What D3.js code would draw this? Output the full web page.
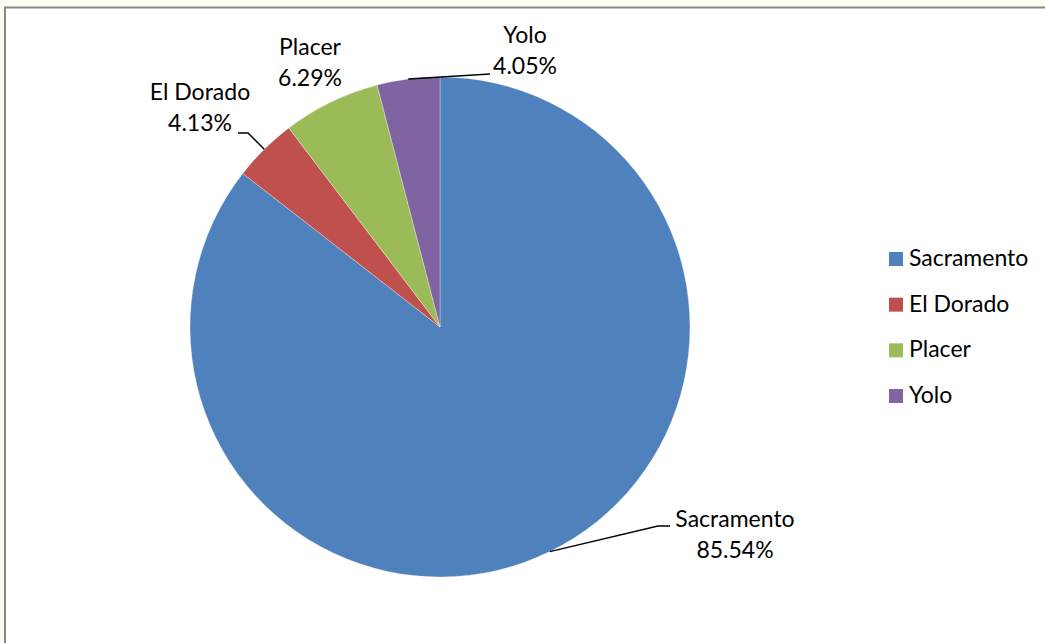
<!DOCTYPE html>
<html>
<head>
<meta charset="utf-8">
<script src="https://cdn.jsdelivr.net/npm/d3@7"></script>
<style>
  html, body { margin: 0; padding: 0; background: #fdfcf0; }
  svg { display: block; }
</style>
</head>
<body>
<svg id="chart" width="1045" height="643"></svg>
<script>
// ---- data ----
const categories = ["Sacramento", "El Dorado", "Placer", "Yolo"];
const values = [85.54, 4.13, 6.29, 4.05];
const valueLabels = ["85.54%", "4.13%", "6.29%", "4.05%"];
const colors = ["#4F81BD", "#C0504D", "#9BBB59", "#8064A2"];

// ---- layout ----
const W = 1045, H = 643;
const cx = 440, cy = 327, R = 250;
const font = "Lato, 'Open Sans', sans-serif";
const fontSize = 23;
// label block positions (center x, baseline of first line) and leader geometry
const labelLayout = {
  "Sacramento": { x: 735, y: 527, anchorFrac: 0.5, leader: [[658, 526], [670, 526]] },
  "El Dorado":  { x: 200, y: 100, anchorFrac: 0.5, leader: [[248, 133], [238, 133]] },
  "Placer":     { x: 310, y: 55,  anchorFrac: null, leader: null },
  "Yolo":       { x: 525, y: 43,  anchorFrac: 0.5, leader: [[490, 74]] }
};

const svg = d3.select("#chart");

// frame
svg.append("rect").attr("x", 0).attr("y", 0).attr("width", W).attr("height", H).attr("fill", "#fdfcf0");
svg.append("rect").attr("x", 6).attr("y", 8).attr("width", W - 6).attr("height", H - 8).attr("fill", "#ffffff");
svg.append("line").attr("x1", 4).attr("x2", W).attr("y1", 7.5).attr("y2", 7.5)
  .attr("stroke", "#878787").attr("stroke-width", 2);
svg.append("line").attr("x1", 5).attr("x2", 5).attr("y1", 7).attr("y2", H)
  .attr("stroke", "#878787").attr("stroke-width", 2);

const data = categories.map((c, i) => ({ name: c, value: values[i], label: valueLabels[i], color: colors[i] }));

const pie = d3.pie().value(d => d.value).sort(null);
const arcs = pie(data);
const arc = d3.arc().innerRadius(0).outerRadius(R);

const g = svg.append("g").attr("transform", `translate(${cx},${cy})`);
g.selectAll("path.slice").data(arcs).join("path")
  .attr("class", "slice")
  .attr("d", arc)
  .attr("fill", d => d.data.color)
  .attr("stroke", "#ffffff")
  .attr("stroke-opacity", 0.4)
  .attr("stroke-width", 0.8);

// leader lines
arcs.forEach(a => {
  const L = labelLayout[a.data.name];
  if (!L.leader) return;
  const ang = a.startAngle + (a.endAngle - a.startAngle) * L.anchorFrac;
  const p0 = [cx + R * Math.sin(ang), cy - R * Math.cos(ang)];
  const pts = [p0, ...L.leader];
  svg.append("path")
    .attr("d", d3.line()(pts))
    .attr("fill", "none")
    .attr("stroke", "#000000")
    .attr("stroke-width", 1.5);
});

// data labels
arcs.forEach(a => {
  const L = labelLayout[a.data.name];
  const t = svg.append("text")
    .attr("x", L.x).attr("y", L.y)
    .attr("text-anchor", "middle")
    .attr("font-family", font)
    .attr("font-size", fontSize)
    .attr("fill", "#000000");
  t.append("tspan").attr("x", L.x).attr("y", L.y).text(a.data.name);
  t.append("tspan").attr("x", L.x).attr("y", L.y + 31).text(a.data.label);
});

// legend
const legend = svg.append("g").attr("transform", "translate(889, 0)");
const rowY = d3.scalePoint().domain(categories).range([266, 403]);
const items = legend.selectAll("g.item").data(data).join("g").attr("class", "item")
  .attr("transform", d => `translate(0, ${rowY(d.name)})`);
items.append("rect").attr("x", 0).attr("y", -14).attr("width", 14).attr("height", 14)
  .attr("fill", d => d.color);
items.append("text").attr("x", 20).attr("y", 0)
  .attr("font-family", font).attr("font-size", fontSize).attr("fill", "#000")
  .text(d => d.name);
</script>
</body>
</html>
